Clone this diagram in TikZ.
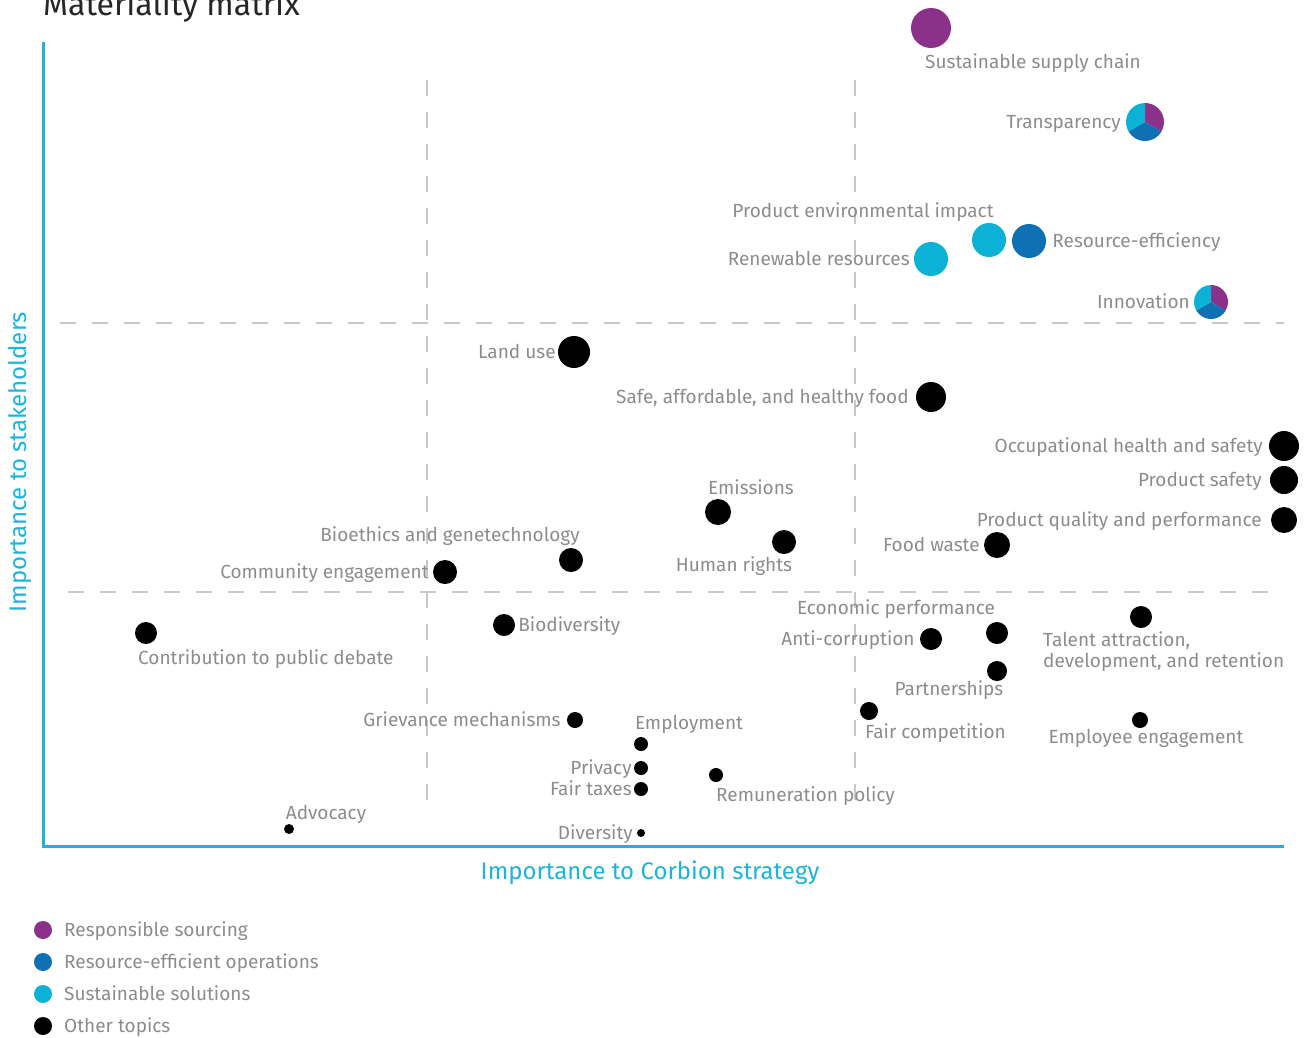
\documentclass[tikz,border=0pt]{standalone}
\usepackage{fontspec}
\setmainfont{Fira Sans}
\usepackage{tikz}
\usetikzlibrary{positioning}
\definecolor{rsourcing}{HTML}{8B3189}
\definecolor{refficient}{HTML}{1070B4}
\definecolor{ssolutions}{HTML}{0CB1D6}
\definecolor{axiscyan}{HTML}{1BB4DB}
\definecolor{labelgray}{HTML}{8C8C8C}
\definecolor{quadgray}{HTML}{C8C8C8}
\tikzset{
  dot/.style={circle, fill=black, inner sep=0pt, minimum size=#1},
  dot/.default=20,
  lbltext/.style={text=labelgray, font=\fontsize{19}{21}\selectfont, inner sep=0pt},
  lbl/.style={lbltext, text height=13pt, text depth=0pt},
  quadline/.style={quadgray, line width=1.4pt, dash pattern=on 16pt off 16pt},
  axisline/.style={axiscyan, line width=3pt},
  axistitle/.style={text=axiscyan, font=\fontsize{24}{28}\selectfont, inner sep=0pt},
}
\begin{document}
\begin{tikzpicture}[x=1pt,y=-1pt]
  \useasboundingbox (0,0) rectangle (1305,1037);
  % title
  \node[anchor=base west, inner sep=0pt, text=black!85, font=\fontsize{32}{36}\selectfont] (title) at (43,15.5) {Materiality matrix};
  % quadrants
  \draw[quadline] (427,80) -- (427,816);
  \draw[quadline] (855,80) -- (855,816);
  \draw[quadline] (60,323) -- (1284,323);
  \draw[quadline] (68,592) -- (1284,592);
  % axes
  \coordinate (origin) at (43,846);
  \coordinate (ytop) at (43,42);
  \coordinate (xend) at (1284,846);
  \draw[axisline] (ytop) -- (origin) -- (xend);
  \node[axistitle, rotate=90] (ytitle) at (20,462) {Importance to stakeholders};
  \node[axistitle] (xtitle) at (650,873) {Importance to Corbion strategy};

  % topics
  \node[dot=40, fill=rsourcing] (supply) at (931,28) {};
  \node[lbl, anchor=west] at (925,62) {Sustainable supply chain};

  \coordinate (transp) at (1145,122);
  \foreach \a/\b/\c in {-90/30/rsourcing, 30/150/refficient, 150/270/ssolutions}
    \fill[\c] (transp) -- ++(\a:19) arc[start angle=\a, end angle=\b, radius=19] -- cycle;
  \node[lbl, anchor=east] at (1121,122) {Transparency};

  \node[dot=34, fill=ssolutions] (prodenv) at (989,240) {};
  \node[lbl] at (863,211) {Product environmental impact};
  \node[dot=34, fill=refficient] (reseff) at (1029,241) {};
  \node[lbl, right=6pt of reseff] {Resource-efficiency};
  \node[dot=34, fill=ssolutions] (renew) at (931,259) {};
  \node[lbl, left=4pt of renew] {Renewable resources};

  \coordinate (innov) at (1211,302);
  \foreach \a/\b/\c in {-90/30/rsourcing, 30/150/refficient, 150/270/ssolutions}
    \fill[\c] (innov) -- ++(\a:17) arc[start angle=\a, end angle=\b, radius=17] -- cycle;
  \node[lbl, anchor=east] at (1190,302) {Innovation};

  \node[dot=32] (landuse) at (574,352) {};
  \node[lbl, left=2pt of landuse] {Land use};
  \node[dot=30] (food) at (931,397) {};
  \node[lbl, left=7pt of food] {Safe, affordable, and healthy food};
  \node[dot=30] (ohs) at (1284,446) {};
  \node[lbl, left=6pt of ohs] {Occupational health and safety};
  \node[dot=28] (psafety) at (1284,480) {};
  \node[lbl, left=8pt of psafety] {Product safety};
  \node[dot=26] (pquality) at (1284,520) {};
  \node[lbl, left=9pt of pquality] {Product quality and performance};
  \node[dot=26] (foodwaste) at (997,545) {};
  \node[lbl, left=4pt of foodwaste] {Food waste};
  \node[dot=26] (emissions) at (718,512) {};
  \node[lbl] at (751,488) {Emissions};
  \node[dot=24] (human) at (784,542) {};
  \node[lbl] at (734,565) {Human rights};
  \node[dot=24] (bioeth) at (571,560) {};
  \node[lbl] at (450,535) {Bioethics and genetechnology};
  \node[dot=24] (community) at (445,572) {};
  \node[lbl, left=4pt of community] {Community engagement};

  \node[dot=22] (debate) at (146,633) {};
  \node[lbl, anchor=west] at (138,658) {Contribution to public debate};
  \node[dot=22] (biodiv) at (504,625) {};
  \node[lbl, right=3pt of biodiv] {Biodiversity};
  \node[dot=22] (econ) at (997,633) {};
  \node[lbl] at (896,608) {Economic performance};
  \node[dot=22] (anticor) at (931,639) {};
  \node[lbl, left=5pt of anticor] {Anti-corruption};
  \node[dot=22] (talent) at (1141,617) {};
  \node[lbltext, anchor=north west, align=left] at (1043,631) {Talent attraction,\\development, and retention};
  \node[dot=20] (partner) at (997,671) {};
  \node[lbl] at (949,689) {Partnerships};
  \node[dot=18] (faircomp) at (869,711) {};
  \node[lbl, anchor=west] at (865,732) {Fair competition};
  \node[dot=16] (employee) at (1140,720) {};
  \node[lbl] at (1146,737) {Employee engagement};
  \node[dot=16] (grievance) at (575,720) {};
  \node[lbl, left=6pt of grievance] {Grievance mechanisms};
  \node[dot=14] (employment) at (641,744) {};
  \node[lbl] at (689,723) {Employment};
  \node[dot=14] (privacy) at (641,768) {};
  \node[lbl, left=2pt of privacy] {Privacy};
  \node[dot=14] (fairtax) at (641,789) {};
  \node[lbl, left=2pt of fairtax] {Fair taxes};
  \node[dot=14] (remun) at (716,775) {};
  \node[lbl, anchor=west] at (716,795) {Remuneration policy};
  \node[dot=10] (advocacy) at (289,829) {};
  \node[lbl] at (326,813) {Advocacy};
  \node[dot=8] (diversity) at (641,833) {};
  \node[lbl, left=4pt of diversity] {Diversity};

  % legend
  \foreach \c/\t [count=\i] in {rsourcing/Responsible sourcing, refficient/Resource-efficient operations, ssolutions/Sustainable solutions, black/Other topics}{
    \node[dot=18, fill=\c] (key\i) at (43,898+32*\i) {};
    \node[lbl, anchor=west] (keytext\i) at (64,898+32*\i) {\t};
  }
\end{tikzpicture}
\end{document}
